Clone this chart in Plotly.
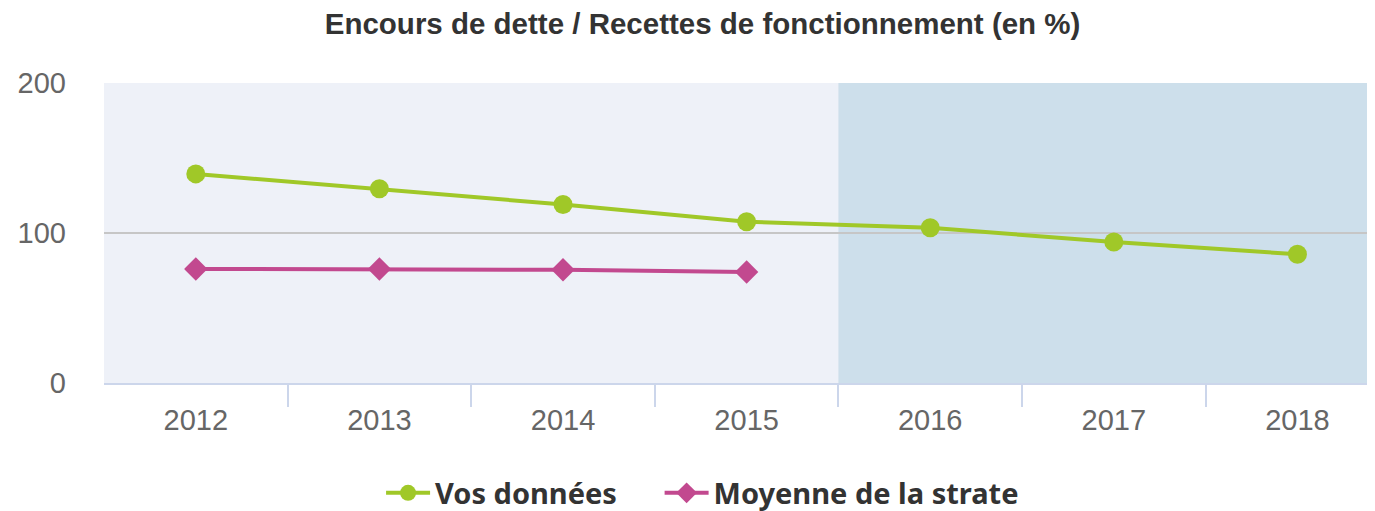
import plotly.graph_objects as go

years = [2012, 2013, 2014, 2015, 2016, 2017, 2018]
vos_donnees = [139.4, 129.5, 119, 107.5, 103.5, 94, 85.8]
strate_years = [2012, 2013, 2014, 2015]
moyenne_strate = [76, 76, 75.5, 74]
y_ticks = [0, 100, 200]
projection_start = 2016

GREEN = "#a0c828"
MAGENTA = "#c2498f"
NBSP = "\u00a0"

FIG_W, FIG_H = 1375, 503

fig = go.Figure()
fig.add_trace(go.Scatter(
    x=years, y=vos_donnees, name="Vos données" + NBSP * 5, mode="lines+markers",
    line=dict(color=GREEN, width=4),
    marker=dict(symbol="circle", size=19, color=GREEN),
))
fig.add_trace(go.Scatter(
    x=strate_years, y=moyenne_strate, name="Moyenne de la strate", mode="lines+markers",
    line=dict(color=MAGENTA, width=4),
    marker=dict(symbol="diamond", size=18, color=MAGENTA),
))

fig.add_shape(type="rect", xref="x", yref="paper",
              x0=projection_start - 0.5, x1=years[-1] + 0.5, y0=0, y1=1,
              fillcolor="#cddfeb", line_width=0, layer="below")

fig.update_layout(
    width=FIG_W, height=FIG_H,
    margin=dict(l=96, r=0, t=75, b=128, autoexpand=False),
    paper_bgcolor="white",
    plot_bgcolor="#eef1f8",
    title=dict(text="<b>Encours de dette / Recettes de fonctionnement (en %)</b>",
               xref="paper", x=0.468, xanchor="center", y=1 - 16 / FIG_H, yanchor="middle",
               font=dict(family="Liberation Sans, Arial", size=29.5, color="#333333")),
    showlegend=True,
    legend=dict(orientation="h", xref="paper", x=0.468, xanchor="center",
                yref="container", y=1 - 485 / FIG_H, yanchor="middle",
                font=dict(family="Noto Sans", size=29, color="#333333", weight="bold"),
                itemwidth=44),
    xaxis=dict(
        range=[years[0] - 0.5, 2018.466], tickvals=years, ticks="", automargin=False,
        minor=dict(tickvals=[y + 0.5 for y in years[:-1]], ticks="outside", ticklen=22,
                   tickcolor="#ccd6eb", tickwidth=2, showgrid=False),
        showline=True, linecolor="#ccd6eb", linewidth=2, ticklabelstandoff=10,
        showgrid=False, zeroline=False,
        tickfont=dict(family="Liberation Sans, Arial", size=29, color="#666666"),
    ),
    yaxis=dict(
        range=[0, 200], tickvals=y_ticks, showgrid=True, gridcolor="#c6c6c6", gridwidth=2,
        zeroline=False, showline=False, ticklabelstandoff=37, automargin=False,
        tickfont=dict(family="Liberation Sans, Arial", size=29, color="#666666"),
    ),
)

fig.write_html("out.html")
